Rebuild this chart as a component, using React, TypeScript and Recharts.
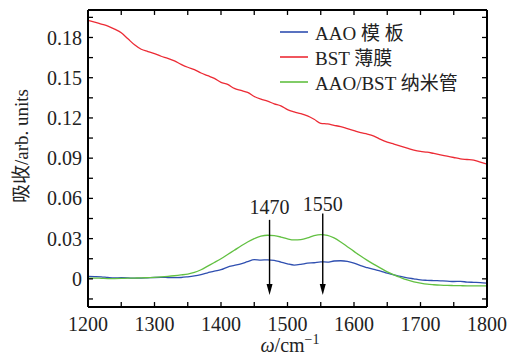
import { LineChart, Line, XAxis, YAxis, Legend, ReferenceLine, ReferenceDot } from "recharts";

const FONT = "'Liberation Serif', 'Noto Sans CJK SC', serif";

const wavenumber = [
  1200, 1210, 1220, 1230, 1240, 1250, 1260, 1270, 1280, 1290,
  1300, 1310, 1320, 1330, 1340, 1350, 1360, 1370, 1380, 1390,
  1400, 1410, 1420, 1430, 1440, 1450, 1460, 1470, 1480, 1490,
  1500, 1510, 1520, 1530, 1540, 1550, 1560, 1570, 1580, 1590,
  1600, 1610, 1620, 1630, 1640, 1650, 1660, 1670, 1680, 1690,
  1700, 1710, 1720, 1730, 1740, 1750, 1760, 1770, 1780, 1790, 1800,
];

// AAO 模板
const aaoTemplate = [
  0.0018, 0.0017, 0.0015, 0.001, 0.0007, 0.0008, 0.0007, 0.0005, 0.0006, 0.0008,
  0.001, 0.0011, 0.001, 0.0009, 0.001, 0.0015, 0.0022, 0.0032, 0.0045, 0.0058,
  0.0068, 0.0088, 0.01, 0.0112, 0.0128, 0.0143, 0.014, 0.0142, 0.0138, 0.0125,
  0.0112, 0.0103, 0.0108, 0.0117, 0.012, 0.0127, 0.0125, 0.0133, 0.0135, 0.0131,
  0.0118, 0.0098, 0.0083, 0.007, 0.0058, 0.0042, 0.003, 0.0018, 0.0008, 0.0,
  -0.0008, -0.0011, -0.0013, -0.0015, -0.0017, -0.002, -0.0019, -0.0024, -0.0026, -0.0028, -0.0032,
];

// BST 薄膜
const bstFilm = [
  0.1928, 0.1915, 0.19, 0.1885, 0.1862, 0.1835, 0.179, 0.1745, 0.1712, 0.1695,
  0.168, 0.166, 0.1645, 0.1625, 0.16, 0.1578, 0.156, 0.1535, 0.1515, 0.1495,
  0.1465, 0.145, 0.142, 0.1405, 0.139, 0.136, 0.134, 0.1325, 0.1305, 0.129,
  0.1262, 0.1245, 0.1232, 0.1215, 0.119, 0.116, 0.1155, 0.1145, 0.1135, 0.112,
  0.1105, 0.109, 0.108, 0.1065, 0.104, 0.102, 0.1005, 0.099, 0.0975, 0.096,
  0.095, 0.0945, 0.0935, 0.0925, 0.0915, 0.0905, 0.0895, 0.089, 0.0885, 0.087, 0.0855,
];

// AAO/BST 纳米管
const aaoBstTubes = [
  0.0005, 0.0006, 0.0004, 0.0002, 0.0002, 0.0003, 0.0005, 0.0006, 0.0007, 0.0009,
  0.0011, 0.0014, 0.0018, 0.0023, 0.0029, 0.0036, 0.0048, 0.0068, 0.0095, 0.0122,
  0.015, 0.0182, 0.0213, 0.0245, 0.0275, 0.03, 0.0318, 0.0325, 0.0322, 0.0312,
  0.0298, 0.029, 0.0293, 0.0305, 0.0322, 0.033, 0.0325, 0.0305, 0.0275, 0.024,
  0.0205, 0.017, 0.0138, 0.0108, 0.008, 0.0052, 0.003, 0.001, -0.0008, -0.0022,
  -0.0032, -0.004, -0.0044, -0.0047, -0.0049, -0.005, -0.0051, -0.0052, -0.0052, -0.0053, -0.0053,
];

const xTicks = [1200, 1250, 1300, 1350, 1400, 1450, 1500, 1550, 1600, 1650, 1700, 1750, 1800];
const yTicks = [
  -0.015, 0, 0.015, 0.03, 0.045, 0.06, 0.075, 0.09, 0.105, 0.12, 0.135, 0.15, 0.165, 0.18, 0.195,
];
const yLabelled = [0, 0.03, 0.06, 0.09, 0.12, 0.15, 0.18];

const X_MIN = 1200;
const X_MAX = 1800;
const Y_MIN = -0.021;
const Y_MAX = 0.2005;
// inward tick length, in data units (~5px)
const X_TICK_LEN = 0.0037;
const Y_TICK_LEN = 7.5;

const series = [
  { key: "aao", name: "AAO 模 板", color: "#2f4fb0" },
  { key: "bst", name: "BST 薄膜", color: "#ec2b35" },
  { key: "tubes", name: "AAO/BST 纳米管", color: "#62c042" },
];

const peaks = [
  { label: "1470", x: 1473, top: 0.044, textY: 0.0485 },
  { label: "1550", x: 1553, top: 0.0488, textY: 0.0507 },
];
const arrowTip = -0.012;

const data = wavenumber.map((w, i) => ({
  w,
  aao: aaoTemplate[i],
  bst: bstFilm[i],
  tubes: aaoBstTubes[i],
}));

const fmtX = (v: number) => (v % 100 === 0 ? String(v) : "");
const fmtY = (v: number) => {
  if (!yLabelled.some((l) => Math.abs(l - v) < 1e-9)) return "";
  return Math.abs(v) < 1e-9 ? "0" : v.toFixed(2);
};

const tickStyle = { fontFamily: FONT, fontSize: 20, fill: "#222" };

function LegendBox() {
  return (
    <div style={{ fontFamily: FONT, fontSize: 19, color: "#222" }}>
      {series.map((s) => (
        <div key={s.key} style={{ display: "flex", alignItems: "center", height: 25 }}>
          <svg width={28} height={4} style={{ marginRight: 7 }}>
            <line x1={0} y1={2} x2={28} y2={2} stroke={s.color} strokeWidth={1.6} />
          </svg>
          <span style={{ whiteSpace: "nowrap" }}>{s.name}</span>
        </div>
      ))}
    </div>
  );
}

function ArrowHead({ cx, cy }: any) {
  return <polygon points={`${cx - 3},${cy - 11} ${cx + 3},${cy - 11} ${cx},${cy}`} fill="#000" />;
}

function PeakText({ cx, cy, text }: any) {
  return (
    <text x={cx} y={cy} textAnchor="middle" fontFamily={FONT} fontSize={20} fill="#222">
      {text}
    </text>
  );
}

function YTitle() {
  return (
    <text
      x={21}
      y={146}
      transform="rotate(-90 21 146)"
      textAnchor="middle"
      dominantBaseline="central"
      fontFamily={FONT}
      fontSize={19}
      fill="#222"
    >
      吸收/arb. units
    </text>
  );
}

function XTitle() {
  return (
    <text x={290} y={352} textAnchor="middle" fontFamily={FONT} fontSize={20} fill="#222">
      <tspan fontStyle="italic">ω</tspan>/cm
      <tspan dy={-8} fontSize={14}>
        −1
      </tspan>
    </text>
  );
}

const innerXTicks = xTicks.filter((t) => t > X_MIN && t < X_MAX);
const innerYTicks = yTicks.filter((t) => t > Y_MIN && t < Y_MAX);

// top and right sides of the box plus the inward ticks on all four sides
const segments = [
  { id: "top", a: { x: X_MIN, y: Y_MAX }, b: { x: X_MAX, y: Y_MAX }, w: 2 },
  { id: "right", a: { x: X_MAX, y: Y_MIN }, b: { x: X_MAX, y: Y_MAX }, w: 2 },
  ...innerXTicks.map((t) => ({ id: "xb" + t, a: { x: t, y: Y_MIN }, b: { x: t, y: Y_MIN + X_TICK_LEN }, w: 1.3 })),
  ...innerXTicks.map((t) => ({ id: "xt" + t, a: { x: t, y: Y_MAX }, b: { x: t, y: Y_MAX - X_TICK_LEN }, w: 1.3 })),
  ...innerYTicks.map((t) => ({ id: "yl" + t, a: { x: X_MIN, y: t }, b: { x: X_MIN + Y_TICK_LEN, y: t }, w: 1.3 })),
  ...innerYTicks.map((t) => ({ id: "yr" + t, a: { x: X_MAX, y: t }, b: { x: X_MAX - Y_TICK_LEN, y: t }, w: 1.3 })),
];

export default function App() {
  return (
    <div
      style={{
        position: "absolute",
        left: 0,
        top: 0,
        width: 515,
        height: 360,
        background: "#fff",
        fontFamily: FONT,
      }}
    >
      <LineChart width={515} height={360} data={data} margin={{ top: 10, right: 28, bottom: 0, left: 0 }}>
        <XAxis
          dataKey="w"
          type="number"
          domain={[X_MIN, X_MAX]}
          ticks={xTicks}
          interval={0}
          tickFormatter={fmtX}
          tickLine={false}
          stroke="#000"
          strokeWidth={2}
          tickSize={0}
          tickMargin={10}
          height={53}
          tick={tickStyle}
          allowDataOverflow
          label={<XTitle />}
        />
        <YAxis
          type="number"
          domain={[Y_MIN, Y_MAX]}
          ticks={yTicks}
          interval={0}
          tickFormatter={fmtY}
          tickLine={false}
          stroke="#000"
          strokeWidth={2}
          tickSize={0}
          tickMargin={6}
          width={88}
          tick={tickStyle}
          allowDataOverflow
          label={<YTitle />}
        />
        {series.map((s) => (
          <Line
            key={s.key}
            dataKey={s.key}
            name={s.name}
            stroke={s.color}
            strokeWidth={1.3}
            dot={false}
            type="monotone"
            isAnimationActive={false}
          />
        ))}
        {segments.map((s) => (
          <ReferenceLine
            key={s.id}
            segment={[s.a, s.b]}
            stroke="#000"
            strokeWidth={s.w}
            ifOverflow="visible"
          />
        ))}
        {peaks.map((p) => (
          <ReferenceLine
            key={"l" + p.label}
            segment={[
              { x: p.x, y: p.top },
              { x: p.x, y: arrowTip + 0.006 },
            ]}
            stroke="#000"
            strokeWidth={1.4}
            ifOverflow="visible"
          />
        ))}
        {peaks.map((p) => (
          <ReferenceDot
            key={"a" + p.label}
            x={p.x}
            y={arrowTip}
            ifOverflow="visible"
            shape={(props: any) => <ArrowHead {...props} />}
          />
        ))}
        {peaks.map((p) => (
          <ReferenceDot
            key={"t" + p.label}
            x={p.x}
            y={p.textY}
            ifOverflow="visible"
            shape={(props: any) => <PeakText {...props} text={p.label} />}
          />
        ))}
        <Legend
          layout="horizontal"
          verticalAlign="middle"
          align="center"
          wrapperStyle={{ top: 19, left: 280, width: 215 }}
          content={() => <LegendBox />}
        />
      </LineChart>
    </div>
  );
}
